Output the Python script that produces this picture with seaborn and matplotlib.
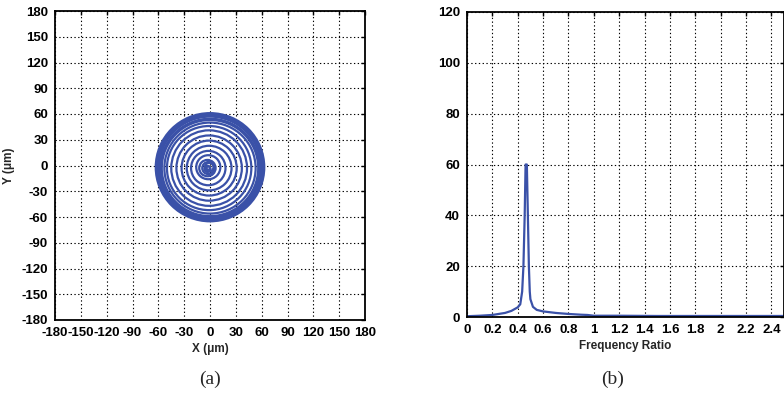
"""Orbit plot (a) and frequency spectrum (b)."""

import matplotlib
matplotlib.use("Agg")
import matplotlib.pyplot as plt
from matplotlib.patches import Circle
import pandas as pd
import seaborn as sns

# (a) orbit rings: radius and centre (um)
ring_radius = [2, 3.5, 5, 7, 9.5, 14, 20, 26, 32, 38, 44, 49, 53,
               56, 57.5, 59, 60, 61, 62, 63]
ring_cx = [-2, -3, -1, -2, -3, -2, -2, -1, -1, -1, -1, -1, 0,
           0, 0, 0, 0, 0, 0, 0]
ring_cy = [-3, -4, -2, -3, -3, -2, -3, -3, -3, -3, -3, -3, -3,
           -3, -3, -2, -2, -2, -2, -2]
xy_ticks = list(range(-180, 181, 30))

# (b) spectrum
freq_ratio = [0.0, 0.1, 0.2, 0.3, 0.35, 0.4, 0.42, 0.435, 0.445, 0.455,
              0.462, 0.472, 0.48, 0.488, 0.495, 0.5, 0.52, 0.55,
              0.6, 0.7, 0.8, 0.9, 0.95, 1.0, 1.2, 1.5, 1.8, 2.0, 2.5]
amplitude = [0.3, 0.5, 0.8, 1.6, 2.4, 3.8, 5.0, 10.0, 20.0, 40.0,
             60.0, 60.0, 40.0, 20.0, 10.0, 7.0, 4.0, 2.8,
             2.2, 1.6, 1.2, 0.9, 0.8, 0.5, 0.5, 0.4, 0.4, 0.4, 0.4]
freq_ticks = [0, 0.2, 0.4, 0.6, 0.8, 1, 1.2, 1.4, 1.6, 1.8, 2, 2.2, 2.4]
freq_labels = ["0", "0.2", "0.4", "0.6", "0.8", "1", "1.2", "1.4", "1.6",
               "1.8", "2", "2.2", "2.4"]
amp_ticks = [0, 20, 40, 60, 80, 100, 120]

BLUE = "#3a51a8"

sns.set_theme(style="white")
plt.rcParams["font.family"] = ["Liberation Sans", "DejaVu Sans"]
plt.rcParams["axes.unicode_minus"] = False

fig = plt.figure(figsize=(7.84, 3.96), dpi=100)
ax1 = fig.add_axes([55 / 784, 76 / 396, 310 / 784, 309 / 396])
ax2 = fig.add_axes([467 / 784, 79 / 396, 317 / 784, 305 / 396])

grid_kw = dict(color="black", linestyle=(0, (1.2, 2.2)), linewidth=0.8)


def style_axes(ax):
    ax.grid(True, **grid_kw)
    ax.set_axisbelow(True)
    ax.tick_params(direction="in", length=3, width=1, top=True, right=True,
                   colors="black", pad=5)
    for lab in ax.get_xticklabels() + ax.get_yticklabels():
        lab.set_fontsize(9.5)
        lab.set_fontweight("bold")
    for sp in ax.spines.values():
        sp.set_color("black")
        sp.set_linewidth(1.3)


# (a) orbit
for r, cx, cy in zip(ring_radius, ring_cx, ring_cy):
    ax1.add_patch(Circle((cx, cy), r, fill=False, edgecolor=BLUE, linewidth=1.6))
ax1.set_xlim(-180, 180)
ax1.set_ylim(-180, 180)
ax1.set_xticks(xy_ticks)
ax1.set_yticks(xy_ticks)
ax1.set_xlabel("X (\u03bcm)", fontsize=8.5, fontweight="bold", labelpad=3)
ax1.set_ylabel("Y (\u03bcm)", fontsize=8.5, fontweight="bold")
ax1.yaxis.set_label_coords(-0.128, 0.5)
style_axes(ax1)

# (b) spectrum
spec = pd.DataFrame({"Frequency Ratio": freq_ratio, "Amplitude": amplitude})
sns.lineplot(data=spec, x="Frequency Ratio", y="Amplitude", ax=ax2,
             color=BLUE, linewidth=1.6, sort=False)
ax2.set_xlim(0, 2.5)
ax2.set_ylim(0, 120)
ax2.set_xticks(freq_ticks)
ax2.set_xticklabels(freq_labels)
ax2.set_yticks(amp_ticks)
ax2.set_xlabel("Frequency Ratio", fontsize=8.5, fontweight="bold", labelpad=3)
ax2.set_ylabel("")
style_axes(ax2)

fig.text(210 / 784, 1 - 379 / 396, "(a)", ha="center", va="center",
         fontsize=14, family=["Liberation Serif"])
fig.text(613 / 784, 1 - 379 / 396, "(b)", ha="center", va="center",
         fontsize=14, family=["Liberation Serif"])

fig.savefig("out.png", dpi=100)
